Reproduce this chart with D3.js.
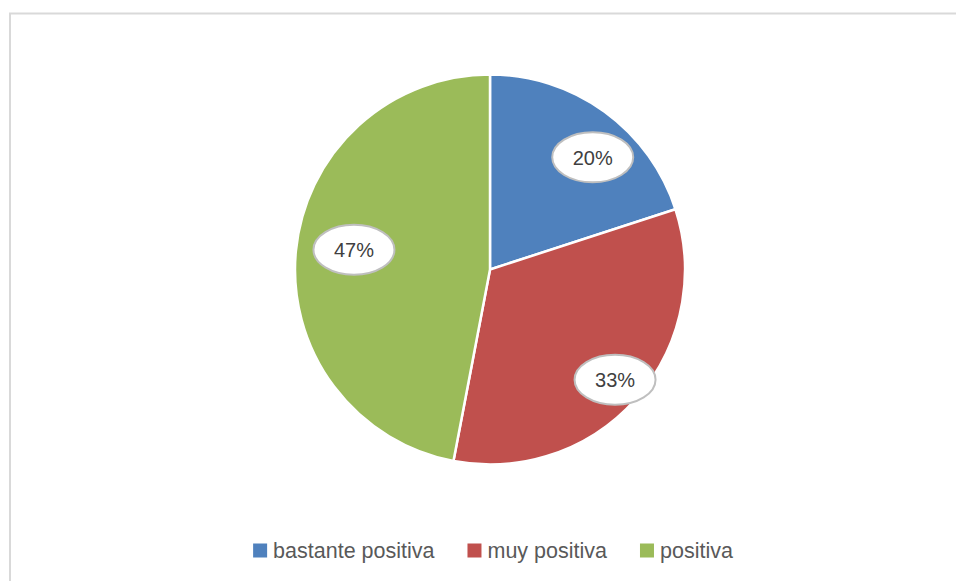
<!DOCTYPE html>
<html>
<head>
<meta charset="utf-8">
<script src="https://cdn.jsdelivr.net/npm/d3@7"></script>
<style>
  html, body { margin: 0; padding: 0; background: #fff; }
  svg { display: block; font-family: "Liberation Sans", Arial, sans-serif; }
</style>
</head>
<body>
<svg id="chart" width="956" height="581"></svg>
<script>
// data
var categories = ['bastante positiva', 'muy positiva', 'positiva']
var values = [20, 33, 47]
var colors = ['#4f81bd', '#c0504d', '#9bbb59']

// label placement (Excel best fit): fraction of radius, and where in the slice's angle
var labelRadius = [0.78, 0.855, 0.705]
var labelAngle = [0.59, 0.5, 0.517]

var cx = 490
var cy = 269.5
var radius = 195

var svg = d3.select('#chart')

// chart area border (only top and left visible)
svg.append('rect')
  .attr('x', 10).attr('y', 13.5)
  .attr('width', 1000).attr('height', 1000)
  .attr('fill', '#fff')
  .attr('stroke', '#d9d9d9')
  .attr('stroke-width', 2)

var pie = d3.pie().sort(null).value(d => d)
var arcs = pie(values)

var arc = d3.arc().innerRadius(0).outerRadius(radius)

var g = svg.append('g')
  .attr('transform', `translate(${cx},${cy})`)

g.selectAll('.slice')
  .data(arcs)
  .enter()
  .append('path')
  .classed('slice', true)
  .attr('d', arc)
  .attr('fill', (d, i) => colors[i])
  .attr('stroke', '#fff')
  .attr('stroke-width', 2.5)
  .attr('stroke-linejoin', 'round')

var total = d3.sum(values)

// data labels in callout ellipses
var labels = g.selectAll('.lbl')
  .data(arcs)
  .enter()
  .append('g')
  .classed('lbl', true)
  .attr('transform', (d, i) => {
    var a = d.startAngle + (d.endAngle - d.startAngle) * labelAngle[i]
    var r = radius * labelRadius[i]
    return `translate(${Math.sin(a) * r},${-Math.cos(a) * r})`
  })

labels.append('ellipse')
  .attr('rx', 40.5)
  .attr('ry', 25)
  .attr('fill', '#fff')
  .attr('stroke', '#bfbfbf')
  .attr('stroke-width', 2)

labels.append('text')
  .attr('text-anchor', 'middle')
  .attr('dy', '0.36em')
  .attr('font-size', 20)
  .attr('fill', '#404040')
  .text(d => Math.round(d.data / total * 100) + '%')

// legend
var legend = svg.append('g')
var legendFont = 21.5
var sw = 14
var gapText = 6
var gapItem = 33
var x = 0
var items = legend.selectAll('.item')
  .data(categories)
  .enter()
  .append('g')
  .classed('item', true)

items.append('rect')
  .attr('width', sw).attr('height', sw)
  .attr('y', -sw / 2)
  .attr('fill', (d, i) => colors[i])

items.append('text')
  .attr('x', sw + gapText)
  .attr('dy', '0.35em')
  .attr('font-size', legendFont)
  .attr('fill', '#595959')
  .text(d => d)

items.each(function () {
  var w = sw + gapText + this.querySelector('text').getComputedTextLength()
  d3.select(this).attr('transform', `translate(${x},0)`)
  x += w + gapItem
})
var legendW = x - gapItem
legend.attr('transform', `translate(${493 - legendW / 2},550.5)`)
</script>
</body>
</html>
